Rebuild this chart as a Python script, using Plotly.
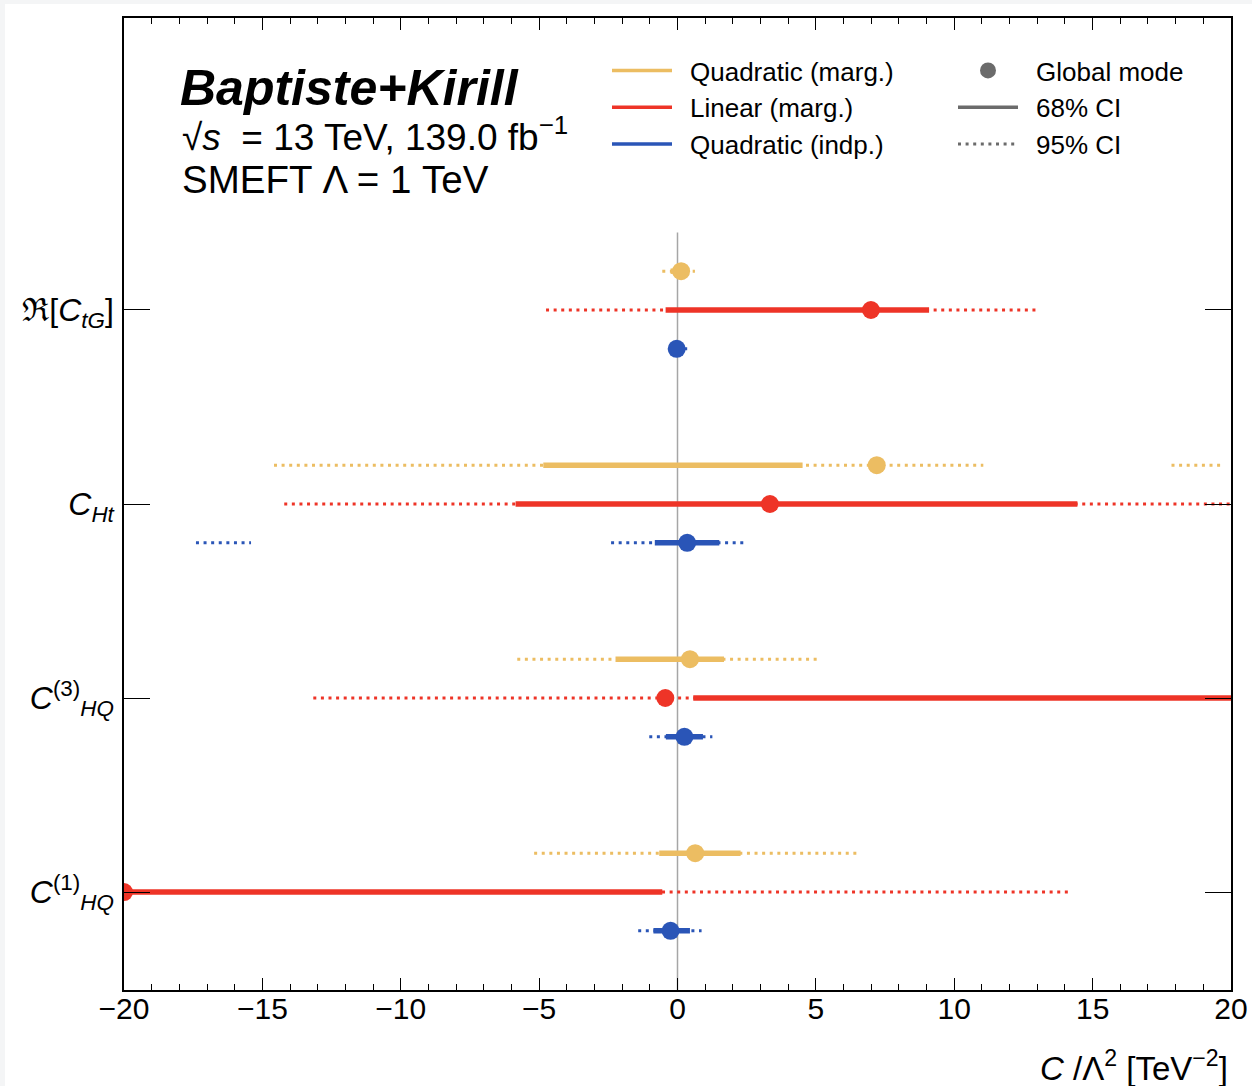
import plotly.graph_objects as go

# ---------------- data ----------------
coeff_labels = [
    "ℜ[<i>C</i><sub><i>tG</i></sub>]",
    "<i>C</i><sub><i>Ht</i></sub>",
    "<i>C</i><sup>(3)</sup><sub><i>HQ</i></sub>",
    "<i>C</i><sup>(1)</sup><sub><i>HQ</i></sub>",
]
coeff_pos = [0, 1, 2, 3]

fit_names = ["Quadratic (marg.)", "Linear (marg.)", "Quadratic (indp.)"]
fit_offsets = [-0.2, 0.0, 0.2]
fit_colors = ["#ECBD62", "#EE3427", "#2A55B7"]

quad_marg_mode = [0.13, 7.2, 0.45, 0.64]
quad_marg_68 = [[(-0.25, 0.4)], [(-4.85, 4.52)], [(-2.24, 1.68)], [(-0.66, 2.28)]]
quad_marg_95 = [[(-0.55, 0.63)], [(-14.58, 11.05), (17.85, 19.63)], [(-5.79, 5.18)], [(-5.18, 6.59)]]

lin_mode = [6.99, 3.34, -0.44, -20.0]
lin_68 = [[(-0.43, 9.09)], [(-5.85, 14.45)], [(0.57, 25.0)], [(-25.0, -0.55)]]
lin_95 = [[(-4.75, 12.95)], [(-14.21, 20.5)], [(-13.16, 25.0)], [(-25.0, 14.18)]]

quad_indp_mode = [-0.03, 0.35, 0.25, -0.25]
quad_indp_68 = [[(-0.15, 0.2)], [(-0.82, 1.51)], [(-0.42, 0.92)], [(-0.87, 0.45)]]
quad_indp_95 = [[(-0.3, 0.35)], [(-17.4, -15.41), (-2.4, 2.42)], [(-1.02, 1.26)], [(-1.42, 0.87)]]

modes = [quad_marg_mode, lin_mode, quad_indp_mode]
ci68 = [quad_marg_68, lin_68, quad_indp_68]
ci95 = [quad_marg_95, lin_95, quad_indp_95]

style_names = ["Global mode", "68% CI", "95% CI"]

x_ticks = [-20, -15, -10, -5, 0, 5, 10, 15, 20]
x_ticktext = ["−20", "−15", "−10", "−5", "0", "5", "10", "15", "20"]

FONT = "Liberation Sans, Arial, Helvetica, sans-serif"
DOT = "3px,4.6px"
GAP1 = "\u2002"
GAP2 = "\u2002"

fig = go.Figure()

# zero line
fig.add_trace(go.Scatter(x=[0, 0], y=[-0.4, 3.6], mode="lines",
                         line=dict(color="#a6a6a6", width=1.5),
                         showlegend=False, hoverinfo="skip"))


def seg_xy(intervals_per_coeff, offset):
    xs, ys = [], []
    for pos, ivs in zip(coeff_pos, intervals_per_coeff):
        for lo, hi in ivs:
            xs += [lo, hi, None]
            ys += [pos + offset, pos + offset, None]
    return xs, ys


for k in range(3):
    col = fit_colors[k]
    off = fit_offsets[k]
    x95, y95 = seg_xy(ci95[k], off)
    fig.add_trace(go.Scatter(x=x95, y=y95, mode="lines",
                             line=dict(color=col, width=3, dash=DOT),
                             showlegend=False, hoverinfo="skip"))
    x68, y68 = seg_xy(ci68[k], off)
    fig.add_trace(go.Scatter(x=x68, y=y68, mode="lines",
                             line=dict(color=col, width=5.5),
                             showlegend=False, hoverinfo="skip"))
    fig.add_trace(go.Scatter(x=modes[k], y=[p + off for p in coeff_pos], mode="markers",
                             marker=dict(color=col, size=18, line=dict(width=0)),
                             showlegend=False))

# legend entries (column 1)
for k in range(3):
    fig.add_trace(go.Scatter(x=[None], y=[None], mode="lines", name=GAP1 + fit_names[k],
                             line=dict(color=fit_colors[k], width=3.5), legend="legend"))
# legend entries (column 2)
fig.add_trace(go.Scatter(x=[None], y=[None], mode="markers", name=GAP2 + style_names[0],
                         marker=dict(color="#6b6b6b", size=17), legend="legend2"))
fig.add_trace(go.Scatter(x=[None], y=[None], mode="lines", name=GAP2 + style_names[1],
                         line=dict(color="#6b6b6b", width=3.5), legend="legend2"))
fig.add_trace(go.Scatter(x=[None], y=[None], mode="lines", name=GAP2 + style_names[2],
                         line=dict(color="#6b6b6b", width=3, dash=DOT), legend="legend2"))

L, R, T, B = 124, 21, 18, 96
W, H = 1252, 1086
pw, ph = W - L - R, H - T - B


def px(xp):
    return (xp - L) / pw


def py(yp):
    return 1 - (yp - T) / ph


fig.update_layout(
    width=W, height=H,
    margin=dict(l=L, r=R, t=T, b=B, autoexpand=False),
    paper_bgcolor="white", plot_bgcolor="white",
    font=dict(family=FONT, color="black"),
    xaxis=dict(range=[-20, 20], tickvals=x_ticks, ticktext=x_ticktext, automargin=False,
               ticks="inside", ticklen=12, tickwidth=1.2, tickcolor="black",
               minor=dict(dtick=1, ticks="inside", ticklen=6, tickwidth=1, tickcolor="black"),
               showline=True, linecolor="black", linewidth=1.5, mirror="ticks",
               showgrid=False, zeroline=False, ticklabelstandoff=-9,
               tickfont=dict(size=30, family=FONT)),
    yaxis=dict(range=[3.505, -1.505], tickvals=coeff_pos, ticktext=coeff_labels, automargin=False,
               ticks="inside", ticklen=26, tickwidth=1.2, tickcolor="black",
               showline=True, linecolor="black", linewidth=1.5, mirror="ticks",
               showgrid=False, zeroline=False, ticklabelstandoff=2,
               tickfont=dict(size=32, family=FONT)),
    legend=dict(x=px(607), y=py(47), xanchor="left", yanchor="top",
                font=dict(size=26, family=FONT), bgcolor="rgba(0,0,0,0)",
                itemwidth=60, tracegroupgap=0),
    legend2=dict(x=px(953), y=py(47), xanchor="left", yanchor="top",
                 font=dict(size=26, family=FONT), bgcolor="rgba(0,0,0,0)",
                 itemwidth=60, tracegroupgap=0),
    shapes=[
        dict(type="rect", xref="paper", yref="paper", layer="below",
             x0=px(0), x1=px(W), y0=py(0), y1=py(4),
             fillcolor="#f4f5f6", line=dict(width=0)),
        dict(type="rect", xref="paper", yref="paper", layer="below",
             x0=px(0), x1=px(5), y0=py(0), y1=py(H),
             fillcolor="#f4f5f6", line=dict(width=0)),
    ],
    annotations=[
        dict(text="<b><i>Baptiste+Kirill</i></b>", x=px(178), y=py(88), xref="paper", yref="paper",
             xanchor="left", yanchor="middle", showarrow=False, font=dict(size=50, family=FONT)),
        dict(text="√<i>s</i>  = 13 TeV, 139.0 fb<sup>−1</sup>", x=px(180), y=py(134), xref="paper",
             yref="paper", xanchor="left", yanchor="middle", showarrow=False,
             font=dict(size=37, family=FONT)),
        dict(text="SMEFT Λ = 1 TeV", x=px(180), y=py(180), xref="paper", yref="paper",
             xanchor="left", yanchor="middle", showarrow=False, font=dict(size=38.5, family=FONT)),
        dict(text="<i>C</i> /Λ<sup>2</sup> [TeV<sup>−2</sup>]", x=px(1230), y=py(1066), xref="paper",
             yref="paper", xanchor="right", yanchor="middle", showarrow=False,
             font=dict(size=33, family=FONT)),
    ],
)

fig.write_html("out.html")
